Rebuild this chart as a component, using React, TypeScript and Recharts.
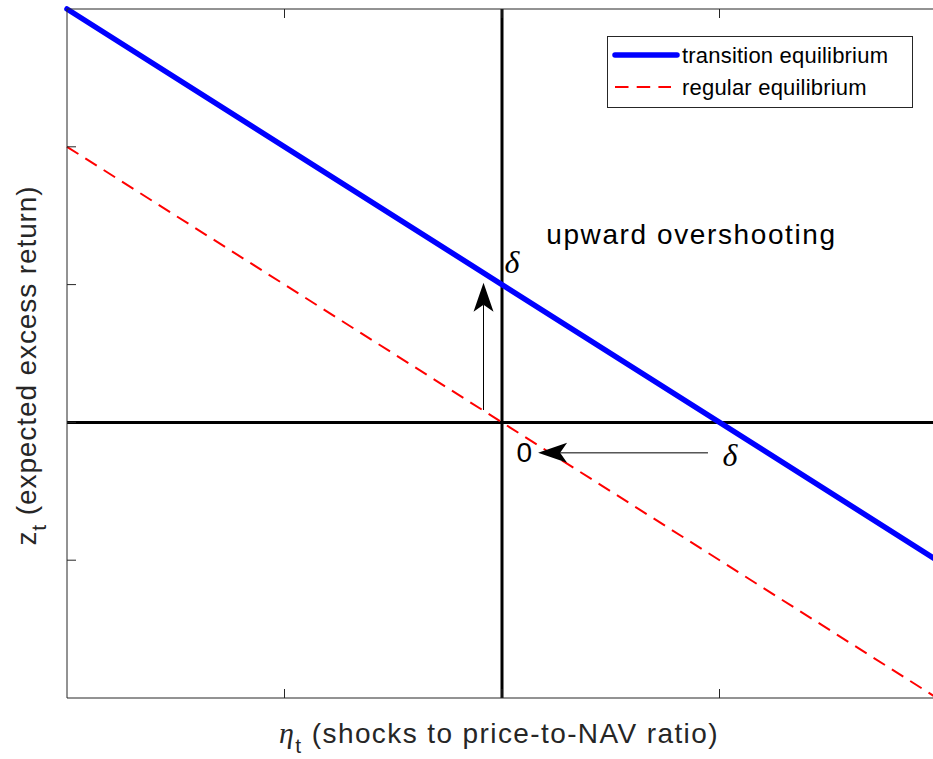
import React from "react"
import { LineChart, Line, XAxis, YAxis, ReferenceLine, ReferenceDot, Legend } from "recharts"

// eta_t grid and the two equilibrium schedules z_t(eta_t)
const etaPoints = [-2, 2]
const transitionZ = [3, -1]
const regularZ = [2, -2]

const seriesNames = ["transition equilibrium", "regular equilibrium"]

const xTicks = [-1, 0, 1]
const yTicks = [-1, 0, 1, 2]
const xDomain = [-2, 2]
const yDomain = [-2, 3]

// arrows: [x1, y1, x2, y2], head at the second point
const upArrow = [-0.085, 0.09, -0.085, 1.014]
const leftArrow = [0.947, -0.221, 0.166, -0.221]

// text annotations
const noteX = [0.046, 1.048, 0.106, 0.871]
const noteY = [1.166, -0.235, -0.221, 1.362]
const noteText = ["δ", "δ", "0", "upward overshooting"]
const noteMath = [true, true, false, false]

const chartData = etaPoints.map((eta, i) => ({
    eta,
    transition: transitionZ[i],
    regular: regularZ[i],
}))

const SANS = '"Liberation Sans", Arial, Helvetica, sans-serif'
const SERIF = '"Liberation Serif", "Times New Roman", serif'
const AXIS = "#262626"
// axes need a non-zero box to be drawn, but should not eat into the plot area
const THIN = 0.001

const lineStyle: Record<string, { stroke: string; width: number; dash?: string }> = {
    transition: { stroke: "#0000ff", width: 5.5 },
    regular: { stroke: "#ff0000", width: 2, dash: "13.5 8.2" },
}

const NoTick = () => null

function Arrow(props: any) {
    const { x1, y1, x2, y2 } = props
    const ang = Math.atan2(y2 - y1, x2 - x1)
    const c = Math.cos(ang)
    const s = Math.sin(ang)
    // head: tip, two back corners, notch
    const pt = (back: number, side: number) =>
        `${x2 - back * c - side * s},${y2 - back * s + side * c}`
    const head = [pt(0, 0), pt(29, 10), pt(22, 0), pt(29, -10)].join(" ")
    return (
        <g>
            <line x1={x1} y1={y1} x2={x2 - 22 * c} y2={y2 - 22 * s} stroke="#000" strokeWidth={1} />
            <polygon points={head} fill="#000" />
        </g>
    )
}

function makeNote(i: number) {
    return (p: any) => (
        <text
            x={p.cx}
            y={p.cy}
            textAnchor="middle"
            dominantBaseline="central"
            fontFamily={noteMath[i] ? SERIF : SANS}
            fontStyle={noteMath[i] ? "italic" : "normal"}
            fontSize={noteMath[i] ? 32 : 28}
            letterSpacing={noteMath[i] ? 0 : 1.6}
            fill="#000"
        >
            {noteText[i]}
        </text>
    )
}

function XLabel(props: any) {
    const vb = props.viewBox
    const x = vb.x + vb.width / 2 - 3
    const y = vb.y + 45
    return (
        <text x={x} y={y} textAnchor="middle" fontFamily={SANS} fontSize={28} letterSpacing={1.4} fill={AXIS}>
            <tspan fontFamily={SERIF} fontStyle="italic" fontSize={30}>η</tspan>
            <tspan dy={10} fontSize={21}>t</tspan>
            <tspan dy={-10}> (shocks to price-to-NAV ratio)</tspan>
        </text>
    )
}

function YLabel(props: any) {
    const vb = props.viewBox
    const x = 36
    const y = vb.y + vb.height / 2 + 12
    return (
        <text
            x={x}
            y={y}
            transform={`rotate(-90, ${x}, ${y})`}
            textAnchor="middle"
            fontFamily={SANS}
            fontSize={28}
            letterSpacing={0.9}
            fill={AXIS}
        >
            z<tspan dy={10} fontSize={21}>t</tspan>
            <tspan dy={-10}> (expected excess return)</tspan>
        </text>
    )
}

function LegendBox(props: any) {
    const items = props.payload || []
    return (
        <svg width={306} height={72} style={{ display: "block" }}>
            <rect x={0.5} y={0.5} width={305} height={71} fill="#fff" stroke={AXIS} strokeWidth={1} />
            {items.map((entry: any, i: number) => {
                const st = lineStyle[entry.dataKey]
                const cy = 19 + i * 32
                return (
                    <g key={entry.dataKey}>
                        <line
                            x1={8}
                            x2={st.dash ? 64 : 70}
                            y1={cy}
                            y2={cy}
                            stroke={st.stroke}
                            strokeWidth={st.width}
                            strokeDasharray={st.dash}
                            strokeLinecap={st.dash ? "butt" : "round"}
                        />
                        <text x={75} y={cy + 8} fontFamily={SANS} fontSize={22} letterSpacing={0.2} fill="#000">
                            {entry.value}
                        </text>
                    </g>
                )
            })}
        </svg>
    )
}

export default function App() {
    return (
        <div style={{ position: "absolute", left: 0, top: 0, width: 933, height: 759, overflow: "hidden", background: "#fff" }}>
            <LineChart width={938} height={759} data={chartData} margin={{ top: 9, right: 1, bottom: 61, left: 67 }}>
                <XAxis
                    dataKey="eta"
                    type="number"
                    domain={xDomain}
                    ticks={xTicks}
                    interval={0}
                    height={THIN}
                    mirror
                    tick={NoTick}
                    tickSize={9}
                    stroke={AXIS}
                    label={XLabel}
                />
                <XAxis
                    xAxisId="top"
                    orientation="top"
                    dataKey="eta"
                    type="number"
                    domain={xDomain}
                    ticks={xTicks}
                    interval={0}
                    height={THIN}
                    mirror
                    tick={NoTick}
                    tickSize={9}
                    stroke={AXIS}
                />
                <YAxis
                    type="number"
                    domain={yDomain}
                    ticks={yTicks}
                    interval={0}
                    width={THIN}
                    mirror
                    tick={NoTick}
                    tickSize={9}
                    stroke={AXIS}
                    label={YLabel}
                />
                <ReferenceLine x={0} stroke="#000" strokeWidth={3} />
                <ReferenceLine y={0} stroke="#000" strokeWidth={3} />
                <Line
                    dataKey="transition"
                    name={seriesNames[0]}
                    type="linear"
                    stroke={lineStyle.transition.stroke}
                    strokeWidth={lineStyle.transition.width}
                    strokeLinecap="round"
                    dot={false}
                    activeDot={false}
                    isAnimationActive={false}
                />
                <Line
                    dataKey="regular"
                    name={seriesNames[1]}
                    type="linear"
                    stroke={lineStyle.regular.stroke}
                    strokeWidth={lineStyle.regular.width}
                    strokeDasharray={lineStyle.regular.dash}
                    dot={false}
                    activeDot={false}
                    isAnimationActive={false}
                />
                <ReferenceLine
                    segment={[{ x: upArrow[0], y: upArrow[1] }, { x: upArrow[2], y: upArrow[3] }]}
                    shape={Arrow}
                />
                <ReferenceLine
                    segment={[{ x: leftArrow[0], y: leftArrow[1] }, { x: leftArrow[2], y: leftArrow[3] }]}
                    shape={Arrow}
                />
                {noteText.map((_, i) => (
                    <ReferenceDot key={i} x={noteX[i]} y={noteY[i]} r={0} shape={makeNote(i)} />
                ))}
                <Legend
                    layout="horizontal"
                    verticalAlign="middle"
                    align="center"
                    itemSorter={(item: any) => seriesNames.indexOf(item.value)}
                    content={LegendBox}
                    wrapperStyle={{ position: "absolute", left: 607, top: 36, width: 306, height: 72 }}
                />
            </LineChart>
        </div>
    )
}
